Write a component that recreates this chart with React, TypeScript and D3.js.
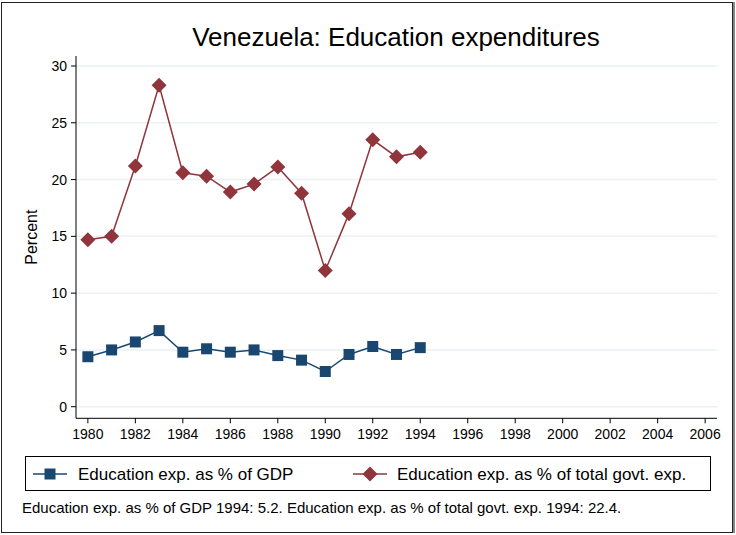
import * as d3 from 'd3'
import React from 'react'

const years = [1980, 1981, 1982, 1983, 1984, 1985, 1986, 1987, 1988, 1989, 1990, 1991, 1992, 1993, 1994]
const gdpShare = [4.4, 5.0, 5.7, 6.7, 4.8, 5.1, 4.8, 5.0, 4.5, 4.1, 3.1, 4.6, 5.3, 4.6, 5.2]
const govtShare = [14.7, 15.0, 21.2, 28.3, 20.6, 20.3, 18.9, 19.6, 21.1, 18.8, 12.0, 17.0, 23.5, 22.0, 22.4]
const xTicks = [1980, 1982, 1984, 1986, 1988, 1990, 1992, 1994, 1996, 1998, 2000, 2002, 2004, 2006]
const yTicks = [0, 5, 10, 15, 20, 25, 30]
const seriesNames = ['Education exp. as % of GDP', 'Education exp. as % of total govt. exp.']
const title = 'Venezuela: Education expenditures'
const note = 'Education exp. as % of GDP 1994: 5.2. Education exp. as % of total govt. exp. 1994: 22.4.'

const W = 736, H = 535
const font = '"Liberation Sans", Arial, sans-serif'
const blue = '#1a476f', red = '#90353b', grid = '#eaf2f3'

const Square = ({ x, y, c }: { x: number, y: number, c: string }) =>
  <rect x={x - 5.5} y={y - 5.5} width={11} height={11} fill={c} />
const Diamond = ({ x, y, c }: { x: number, y: number, c: string }) =>
  <path d={`M${x},${y - 7.5}L${x + 7.5},${y}L${x},${y + 7.5}L${x - 7.5},${y}Z`} fill={c} />

export default function App() {
  const
    x = d3.scaleLinear().domain([1979.5, 2006.5]).range([76, 717]),
    y = d3.scaleLinear().domain([0, 30]).range([406.7, 66]),
    plotTop = 56, plotBottom = 418.3,
    ln = d3.line<number>().x((_, i) => x(years[i])).y(d => y(d))

  // legend keys: stata gives both columns the same width
  const key2 = 353

  return (
    <svg width={W} height={H} style={{ position: 'absolute', left: 0, top: 0 }} fontFamily={font}>
      <rect x={0} y={0} width={W} height={H} fill='white' />
      <rect x={1.5} y={2.5} width={731} height={530} fill='none' stroke='#222' strokeWidth={1} />
      <line x1={734} y1={2} x2={734} y2={533} stroke='#888' strokeWidth={2} />

      <text x={396} y={46} textAnchor='middle' fontSize={26}>{title}</text>

      {yTicks.map(t => (
        <g key={t}>
          <line x1={76} x2={717} y1={y(t)} y2={y(t)} stroke={grid} strokeWidth={1.5} />
          <line x1={71} x2={76} y1={y(t)} y2={y(t)} stroke='#000' />
          <text x={67} y={y(t) + 5} textAnchor='end' fontSize={14}>{t}</text>
        </g>
      ))}
      {xTicks.map(t => (
        <g key={t}>
          <line x1={x(t)} x2={x(t)} y1={plotBottom} y2={plotBottom + 5} stroke='#000' />
          <text x={x(t)} y={plotBottom + 21} textAnchor='middle' fontSize={14}>{t}</text>
        </g>
      ))}
      <line x1={76} x2={76} y1={plotTop} y2={plotBottom} stroke='#000' />
      <line x1={76} x2={717} y1={plotBottom} y2={plotBottom} stroke='#000' />

      <text transform={`translate(37,${(plotTop + plotBottom) / 2}) rotate(-90)`} textAnchor='middle' fontSize={16}>Percent</text>

      <path d={ln(govtShare) as string} fill='none' stroke={red} strokeWidth={1.5} />
      {govtShare.map((v, i) => <Diamond key={i} x={x(years[i])} y={y(v)} c={red} />)}
      <path d={ln(gdpShare) as string} fill='none' stroke={blue} strokeWidth={1.5} />
      {gdpShare.map((v, i) => <Square key={i} x={x(years[i])} y={y(v)} c={blue} />)}

      <rect x={25.5} y={456.5} width={685} height={34} fill='white' stroke='#000' />
      <line x1={33} x2={67} y1={474} y2={474} stroke={blue} strokeWidth={1.5} />
      <Square x={50} y={474} c={blue} />
      <text x={78} y={480} fontSize={17}>{seriesNames[0]}</text>
      <line x1={key2} x2={key2 + 34} y1={474} y2={474} stroke={red} strokeWidth={1.5} />
      <Diamond x={key2 + 17} y={474} c={red} />
      <text x={key2 + 44} y={480} fontSize={17}>{seriesNames[1]}</text>

      <text x={22} y={513} fontSize={15}>{note}</text>
    </svg>
  )
}
